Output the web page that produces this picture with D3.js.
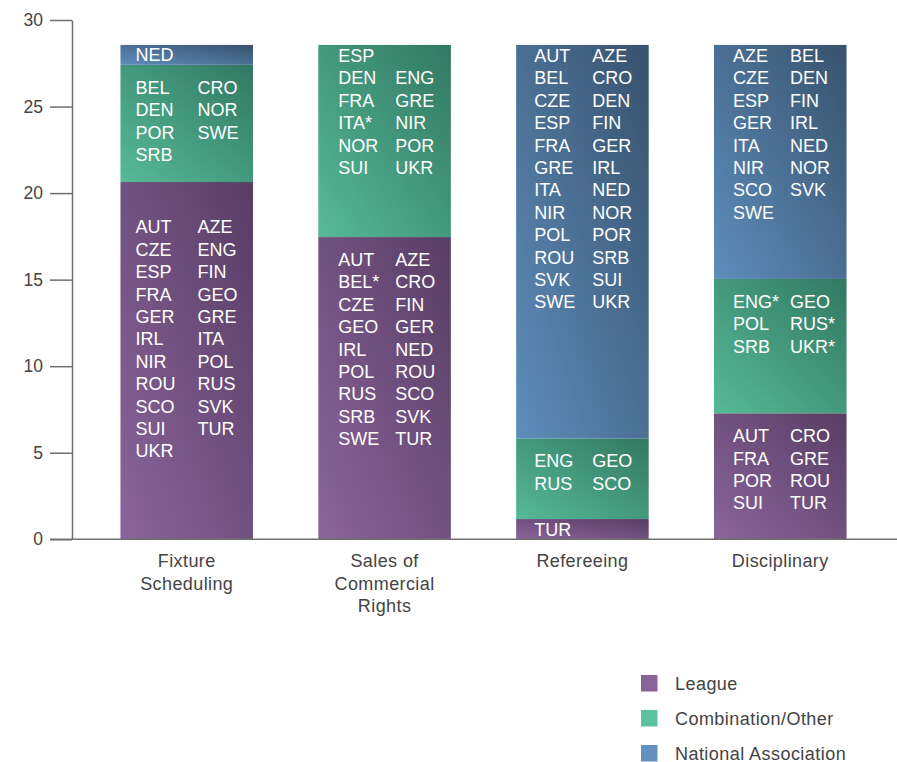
<!DOCTYPE html>
<html>
<head>
<meta charset="utf-8">
<script src="https://cdn.jsdelivr.net/npm/d3@7"></script>
<style>
  html, body { margin: 0; padding: 0; background: #fff; }
  svg { display: block; font-family: "Liberation Sans", Arial, Helvetica, sans-serif; }
</style>
</head>
<body>
<svg id="chart" width="897" height="762"></svg>
<script>
// ---- Data ----
const categories = ["Fixture Scheduling", "Sales of Commercial Rights", "Refereeing", "Disciplinary"];
const categoryLines = [["Fixture", "Scheduling"], ["Sales of", "Commercial", "Rights"], ["Refereeing"], ["Disciplinary"]];
const seriesNames = ["League", "Combination/Other", "National Association"];
const leagueValues = [20.64, 17.46, 1.17, 7.28];
const combinationValues = [6.77, 11.10, 4.66, 7.76];
const nationalValues = [1.15, 0, 22.73, 13.52];
const yTicks = [0, 5, 10, 15, 20, 25, 30];

const leagueRows = [
  [["", ""], ["AUT", "AZE"], ["CZE", "ENG"], ["ESP", "FIN"], ["FRA", "GEO"], ["GER", "GRE"], ["IRL", "ITA"], ["NIR", "POL"], ["ROU", "RUS"], ["SCO", "SVK"], ["SUI", "TUR"], ["UKR", ""]],
  [["AUT", "AZE"], ["BEL*", "CRO"], ["CZE", "FIN"], ["GEO", "GER"], ["IRL", "NED"], ["POL", "ROU"], ["RUS", "SCO"], ["SRB", "SVK"], ["SWE", "TUR"]],
  [["TUR", ""]],
  [["AUT", "CRO"], ["FRA", "GRE"], ["POR", "ROU"], ["SUI", "TUR"]]
];
const combinationRows = [
  [["BEL", "CRO"], ["DEN", "NOR"], ["POR", "SWE"], ["SRB", ""]],
  [["ESP", ""], ["DEN", "ENG"], ["FRA", "GRE"], ["ITA*", "NIR"], ["NOR", "POR"], ["SUI", "UKR"]],
  [["ENG", "GEO"], ["RUS", "SCO"]],
  [["ENG*", "GEO"], ["POL", "RUS*"], ["SRB", "UKR*"]]
];
const nationalRows = [
  [["NED", ""]],
  [],
  [["AUT", "AZE"], ["BEL", "CRO"], ["CZE", "DEN"], ["ESP", "FIN"], ["FRA", "GER"], ["GRE", "IRL"], ["ITA", "NED"], ["NIR", "NOR"], ["POL", "POR"], ["ROU", "SRB"], ["SVK", "SUI"], ["SWE", "UKR"]],
  [["AZE", "BEL"], ["CZE", "DEN"], ["ESP", "FIN"], ["GER", "IRL"], ["ITA", "NED"], ["NIR", "NOR"], ["SCO", "SVK"], ["SWE", ""]]
];

// ---- Styling / layout ----
const keys = ["league", "combination", "national"];
const gradStops = {
  league: ["#8a659b", "#583d65"],
  combination: ["#56ba98", "#327862"],
  national: ["#5f8dbc", "#37526d"]
};
const legendColors = ["#8a6399", "#5cc3a0", "#6390c1"];
const axisColor = "#6f6f6f";
const textColor = "#444";
const labelColumnOffsets = [[15, 77], [20, 77], [18, 76], [19, 76]];

const table = categories.map((c, i) => ({
  category: c,
  index: i,
  league: leagueValues[i],
  combination: combinationValues[i],
  national: nationalValues[i],
  rows: { league: leagueRows[i], combination: combinationRows[i], national: nationalRows[i] }
}));

const svg = d3.select("#chart");

const y = d3.scaleLinear().domain([0, 30]).range([539.3, 20]);
const x = d3.scaleBand().domain(categories).range([71, 896]).paddingInner(0.33).paddingOuter(0.25);

// gradients
const defs = svg.append("defs");
keys.forEach(k => {
  const g = defs.append("linearGradient").attr("id", "g-" + k)
    .attr("x1", 0).attr("y1", 1).attr("x2", 1).attr("y2", 0);
  g.append("stop").attr("offset", "0%").attr("stop-color", gradStops[k][0]);
  g.append("stop").attr("offset", "100%").attr("stop-color", gradStops[k][1]);
});

const stacked = d3.stack().keys(keys)(table);

// bars
const layers = svg.append("g").selectAll("g").data(stacked).join("g")
  .attr("fill", d => "url(#g-" + d.key + ")");
layers.selectAll("rect").data(d => d)
  .join("rect")
  .attr("x", d => x(d.data.category))
  .attr("width", x.bandwidth())
  .attr("y", d => y(d[1]))
  .attr("height", d => Math.max(0, y(d[0]) - y(d[1])));

// labels inside segments
const lineH = 22.4;
const labelG = svg.append("g").attr("fill", "#fff").attr("font-size", "18px");
stacked.forEach(layer => {
  layer.forEach(seg => {
    const rows = seg.data.rows[layer.key];
    if (!rows || rows.length === 0) return;
    const top = y(seg[1]);
    const hpx = y(seg[0]) - top;
    const total = seg.data.league + seg.data.combination + seg.data.national;
    const isTop = Math.abs(seg[1] - total) < 1e-9;
    let base;
    if (hpx < 32) base = top + hpx / 2 + 6.5;
    else if (isTop) base = top + 17;
    else base = top + 29;
    const x0 = x(seg.data.category);
    const offs = labelColumnOffsets[seg.data.index];
    rows.forEach((r, ri) => {
      r.forEach((name, ci) => {
        if (!name) return;
        labelG.append("text")
          .attr("x", x0 + offs[ci])
          .attr("y", base + ri * lineH)
          .text(name);
      });
    });
  });
});

// y axis
const yAxis = d3.axisLeft(y).tickValues(yTicks).tickSize(22).tickSizeOuter(0).tickPadding(7);
const ax = svg.append("g").attr("transform", "translate(72,0)").call(yAxis);
ax.select(".domain").attr("stroke", axisColor).attr("stroke-width", 1.5);
ax.selectAll(".tick line").attr("stroke", axisColor).attr("stroke-width", 1.5);
ax.selectAll(".tick text").attr("fill", textColor).attr("font-size", "17.5px")
  .attr("font-family", "'Liberation Sans', Arial, sans-serif");

// baseline
svg.append("line").attr("x1", 50).attr("x2", 897).attr("y1", y(0)).attr("y2", y(0))
  .attr("stroke", axisColor).attr("stroke-width", 1.5);

// category labels
const catG = svg.append("g").attr("fill", textColor).attr("font-size", "18px")
  .attr("letter-spacing", "0.4px").attr("text-anchor", "middle");
categories.forEach((c, i) => {
  categoryLines[i].forEach((ln, j) => {
    catG.append("text")
      .attr("x", x(c) + x.bandwidth() / 2)
      .attr("y", 567 + j * 22.5)
      .text(ln);
  });
});

// legend
const lg = svg.append("g");
seriesNames.forEach((s, i) => {
  const yy = 675 + i * 35;
  lg.append("rect").attr("x", 641).attr("y", yy).attr("width", 16.5).attr("height", 16.5).attr("fill", legendColors[i]);
  lg.append("text").attr("x", 675).attr("y", yy + 14.5).attr("fill", textColor)
    .attr("font-size", "18px").attr("letter-spacing", "0.45px").text(s);
});
</script>
</body>
</html>
